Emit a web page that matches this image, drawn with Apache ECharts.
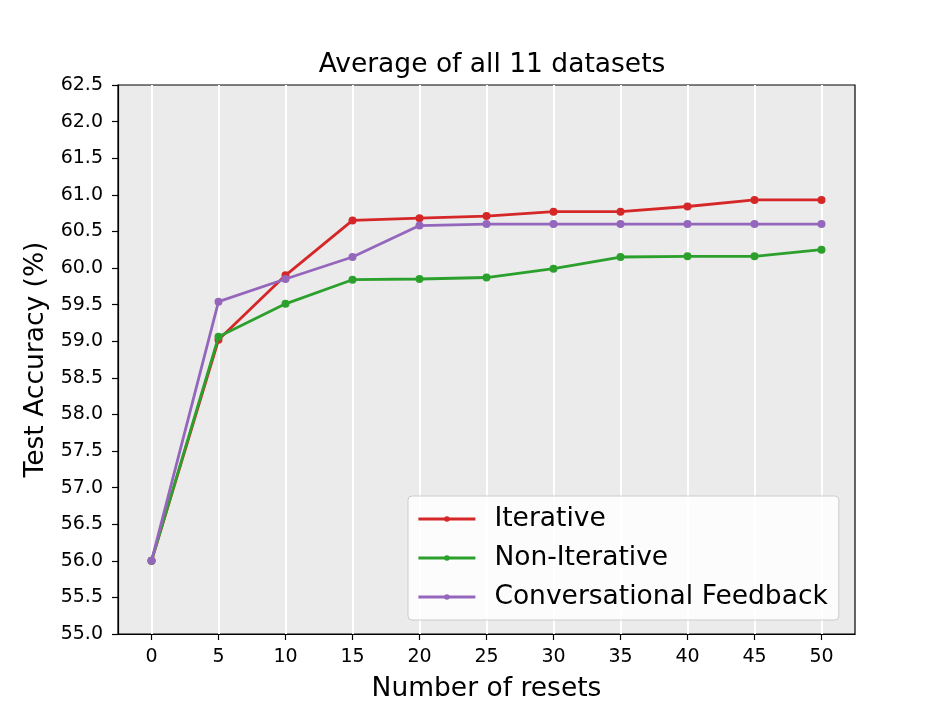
<!DOCTYPE html>
<html>
<head>
<meta charset="utf-8">
<script src="https://cdn.jsdelivr.net/npm/echarts@6/dist/echarts.min.js"></script>
<style>
  html, body { margin: 0; padding: 0; background: #fff; }
  #chart { width: 951px; height: 713px; }
</style>
</head>
<body>
<div id="chart"></div>
<script>
var resets = [0, 5, 10, 15, 20, 25, 30, 35, 40, 45, 50];
var iterative = [56.0, 59.02, 59.9, 60.65, 60.68, 60.71, 60.77, 60.77, 60.84, 60.93, 60.93];
var nonIterative = [56.0, 59.06, 59.51, 59.84, 59.85, 59.87, 59.99, 60.15, 60.16, 60.16, 60.25];
var conversational = [56.0, 59.54, 59.85, 60.15, 60.58, 60.6, 60.6, 60.6, 60.6, 60.6, 60.6];
var seriesNames = ['Iterative', 'Non-Iterative', 'Conversational Feedback'];
var seriesColors = ['#d62728', '#2ca02c', '#9467bd'];

function pairs(vals) {
  var out = [];
  for (var i = 0; i < resets.length; i++) {
    out.push([resets[i], vals[i]]);
  }
  return out;
}

var font = 'DejaVu Sans';
var chart = echarts.init(document.getElementById('chart'));

var allVals = [iterative, nonIterative, conversational];
var series = [];
for (var s = 0; s < allVals.length; s++) {
  series.push({
    name: seriesNames[s],
    type: 'line',
    data: pairs(allVals[s]),
    symbol: 'circle',
    symbolSize: 8,
    showSymbol: true,
    itemStyle: { color: seriesColors[s] },
    lineStyle: { color: seriesColors[s], width: 2.8 },
    emphasis: { disabled: true },
    z: 3 + s
  });
}

var option = {
  animation: false,
  backgroundColor: '#ffffff',
  title: {
    text: 'Average of all 11 datasets',
    left: 487,
    textAlign: 'center',
    top: 47,
    textStyle: { fontFamily: font, fontSize: 26.5, fontWeight: 'normal', color: '#000' }
  },
  grid: {
    left: 118, right: 96, top: 85, bottom: 79,
    show: true, backgroundColor: '#ebebeb', borderWidth: 1.2, borderColor: '#000'
  },
  legend: {
    orient: 'vertical',
    left: 408,
    top: 496,
    padding: [8, 11, 8, 9],
    itemGap: 9,
    itemWidth: 57,
    itemHeight: 7,
    lineStyle: { width: 2.8 },
    backgroundColor: 'rgba(255,255,255,0.85)',
    borderColor: '#cccccc',
    borderWidth: 1,
    borderRadius: 4,
    textStyle: { fontFamily: font, fontSize: 26.5, lineHeight: 30, color: '#000', padding: [0, 0, 0, 14] },
    data: seriesNames
  },
  xAxis: {
    type: 'value',
    min: -2.5,
    max: 52.5,
    name: 'Number of resets',
    nameLocation: 'middle',
    nameGap: 42,
    nameTextStyle: { fontFamily: font, fontSize: 26.5, color: '#000' },
    axisLine: { show: true, onZero: false, lineStyle: { color: '#000', width: 1.2 } },
    axisTick: { show: true, customValues: resets, length: 6, lineStyle: { color: '#000', width: 1.2 } },
    axisLabel: { customValues: resets, fontFamily: font, fontSize: 19, color: '#000', margin: 14 },
    splitLine: { show: true, lineStyle: { color: '#ffffff', width: 2 } }
  },
  yAxis: {
    type: 'value',
    min: 55,
    max: 62.5,
    interval: 0.5,
    name: 'Test Accuracy (%)',
    nameLocation: 'middle',
    nameGap: 67,
    nameTextStyle: { fontFamily: font, fontSize: 26.5, color: '#000' },
    axisLine: { show: true, onZero: false, lineStyle: { color: '#000', width: 1.2 } },
    axisTick: { show: true, length: 6, lineStyle: { color: '#000', width: 1.2 } },
    axisLabel: {
      fontFamily: font, fontSize: 19, color: '#000', margin: 15,
      formatter: function (v) { return v.toFixed(1); }
    },
    splitLine: { show: false }
  },
  series: series
};

chart.setOption(option);
</script>
</body>
</html>
